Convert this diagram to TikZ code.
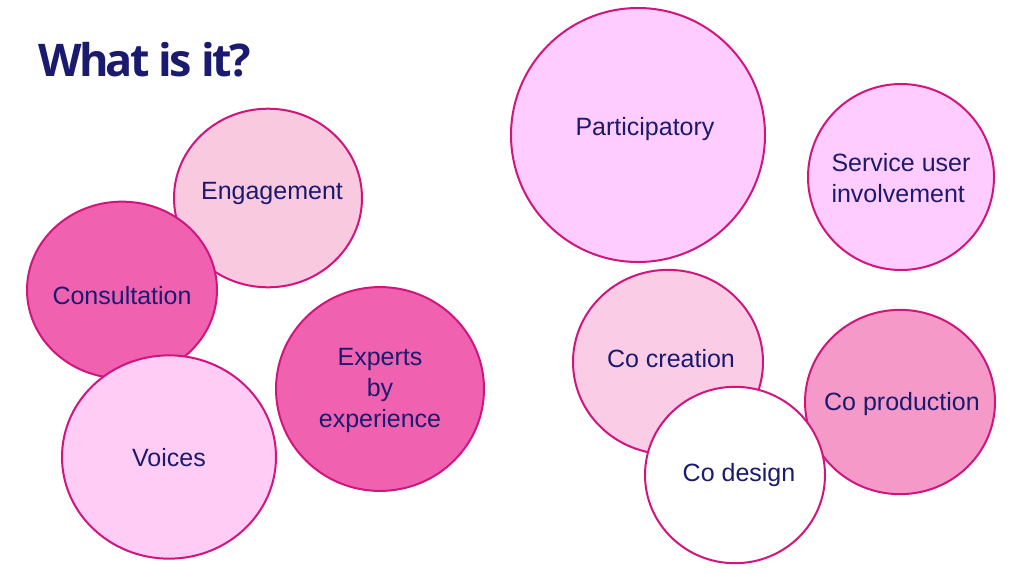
\documentclass[tikz,border=0pt]{standalone}
\usepackage{fontspec}
\setmainfont{Liberation Sans}
\newfontfamily\titlefont{Open Sans}
\begin{document}
\begin{tikzpicture}[x=1pt,y=-1pt,
  lab/.style={align=center,text=navy,font=\fontsize{25}{31}\selectfont,inner sep=0}]
\definecolor{bord}{HTML}{D0157E}
\definecolor{navy}{HTML}{1A1A6E}
\useasboundingbox[fill=white] (0,0) rectangle (1024,576);
\node[font=\titlefont\bfseries\fontsize{45}{48}\selectfont,text=navy,anchor=west,inner sep=0] (title) at (38,60) {\addfontfeatures{LetterSpace=-6}What is it?};
\newcommand{\bubble}[6]{\fill[#5] (#2,#3) ellipse [x radius=#4,y radius=#4*#6];
  \draw[draw=bord,line width=2pt] (#2,#3) ellipse [x radius=#4,y radius=#4*#6];}
\bubble{eng}{268}{198}{94}{fill={rgb,255:red,249;green,201;blue,224}}{0.95}
\bubble{con}{122}{290}{95}{fill={rgb,255:red,240;green,98;blue,176}}{0.93}
\bubble{voi}{169}{457}{107}{fill={rgb,255:red,255;green,204;blue,245}}{0.95}
\bubble{exp}{380}{389}{104}{fill={rgb,255:red,240;green,98;blue,176}}{0.98}
\bubble{par}{638}{135}{127}{fill={rgb,255:red,255;green,204;blue,255}}{1}
\bubble{ser}{901}{177}{93}{fill={rgb,255:red,255;green,204;blue,255}}{1}
\bubble{ccr}{668}{362}{95}{fill={rgb,255:red,250;green,204;blue,230}}{0.97}
\bubble{cpr}{900}{402}{95}{fill={rgb,255:red,245;green,154;blue,200}}{0.97}
\bubble{cde}{735}{475}{90}{fill=white}{0.98}
\node[lab] (teng) at (272,193) {Engagement};
\node[lab] (tcon) at (122,296) {Consultation};
\node[lab] (tvoi) at (169,458) {Voices};
\node[lab] (texp) at (380,390) {Experts\\by\\experience};
\node[lab] (tpar) at (645,129) {Participatory};
\node[lab,align=left] (tser) at (901,178) {Service user\\involvement};
\node[lab] (tccr) at (671,359) {Co creation};
\node[lab] (tcpr) at (902,404) {Co production};
\node[lab] (tcde) at (739,475) {Co design};
\end{tikzpicture}
\end{document}
